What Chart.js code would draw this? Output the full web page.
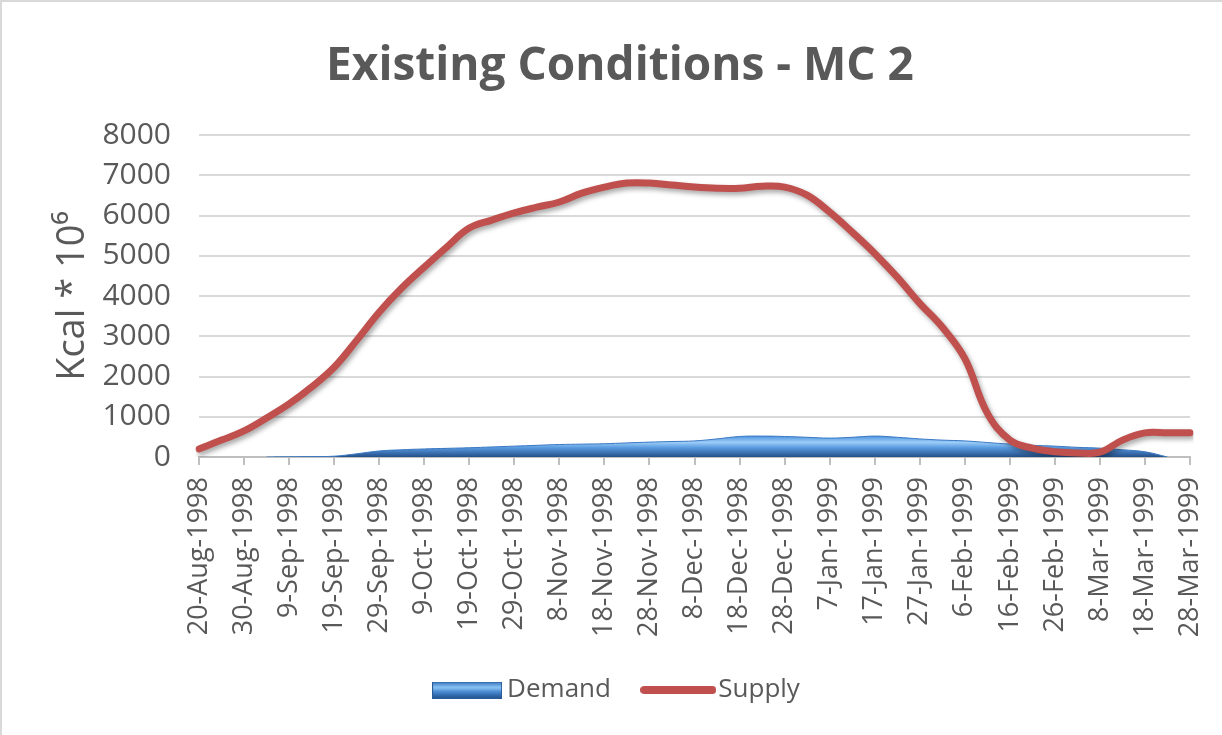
<!DOCTYPE html>
<html>
<head>
<meta charset="utf-8">
<script src="https://cdn.jsdelivr.net/npm/chart.js@4.4.1/dist/chart.umd.min.js"></script>
<style>
  html, body { margin: 0; padding: 0; background: #fff; }
  #wrap { position: relative; width: 1222px; height: 735px; box-sizing: border-box;
          border-top: 2px solid #d9d9d9; border-left: 2px solid #d9d9d9; }
  canvas { display: block; }
</style>
</head>
<body>
<div id="wrap"><canvas id="myChart" width="1220" height="733"></canvas></div>
<script>
// 5-day steps, labels shown every 10 days
const dates = [
  "20-Aug-1998", "25-Aug-1998", "30-Aug-1998", "4-Sep-1998", "9-Sep-1998", "14-Sep-1998",
  "19-Sep-1998", "24-Sep-1998", "29-Sep-1998", "4-Oct-1998", "9-Oct-1998", "14-Oct-1998",
  "19-Oct-1998", "24-Oct-1998", "29-Oct-1998", "3-Nov-1998", "8-Nov-1998", "13-Nov-1998",
  "18-Nov-1998", "23-Nov-1998", "28-Nov-1998", "3-Dec-1998", "8-Dec-1998", "13-Dec-1998",
  "18-Dec-1998", "23-Dec-1998", "28-Dec-1998", "2-Jan-1999", "7-Jan-1999", "12-Jan-1999",
  "17-Jan-1999", "22-Jan-1999", "27-Jan-1999", "1-Feb-1999", "6-Feb-1999", "11-Feb-1999",
  "16-Feb-1999", "21-Feb-1999", "26-Feb-1999", "3-Mar-1999", "8-Mar-1999", "13-Mar-1999",
  "18-Mar-1999", "23-Mar-1999", "28-Mar-1999"
];

const demand = [
  null, null, null, 0, 5, 10, 20, 80, 150, 180, 200, 215, 230, 250, 270, 290, 310, 320,
  330, 350, 370, 385, 400, 450, 510, 520, 510, 490, 470, 490, 520, 490, 450, 420, 400, 360,
  320, 290, 270, 240, 220, 180, 130, 0, null
];

const supply = [
  200, 420, 650, 970, 1320, 1740, 2230, 2900, 3600, 4200, 4720, 5220, 5690, 5890, 6070, 6210,
  6340, 6560, 6710, 6810, 6810, 6760, 6710, 6680, 6680, 6730, 6710, 6510, 6090, 5590, 5060,
  4470, 3820, 3230, 2450, 1090, 420, 220, 130, 100, 120, 420, 600, 600, 600
];

const yTicks = [0, 1000, 2000, 3000, 4000, 5000, 6000, 7000, 8000];

const grey = "#595959";
const font = "'Open Sans', 'Liberation Sans', sans-serif";

// legend symbols
function makeDemandIcon() {
  const c = document.createElement("canvas");
  c.width = 70; c.height = 17;
  const g = c.getContext("2d");
  const gr = g.createLinearGradient(0, 0, 0, 17);
  gr.addColorStop(0, "#2f6fb8");
  gr.addColorStop(0.35, "#8cc4f4");
  gr.addColorStop(0.6, "#4a8ad4");
  gr.addColorStop(1, "#1f4f8c");
  g.fillStyle = gr;
  g.fillRect(0, 0, 70, 17);
  g.strokeStyle = "#2a5b97";
  g.strokeRect(0.5, 0.5, 69, 16);
  return c;
}
function makeSupplyIcon() {
  const c = document.createElement("canvas");
  c.width = 76; c.height = 10;
  const g = c.getContext("2d");
  g.strokeStyle = "#c0504d";
  g.lineWidth = 8;
  g.lineCap = "round";
  g.beginPath();
  g.moveTo(4, 5);
  g.lineTo(72, 5);
  g.stroke();
  return c;
}
const icons = [makeDemandIcon(), makeSupplyIcon()];
// trailing space after Demand gives the gap before the Supply line
const legendSpacing = ["\u2003\u2009", ""];

function demandFill(context) {
  const chart = context.chart;
  const area = chart.chartArea;
  if (!area) return "#5b9bd5";
  const y = chart.scales.y;
  const top = y.getPixelForValue(520);
  const bottom = y.getPixelForValue(0);
  const gr = chart.ctx.createLinearGradient(0, top, 0, bottom);
  gr.addColorStop(0, "#4f95e0");
  gr.addColorStop(0.3, "#9ccdf7");
  gr.addColorStop(0.55, "#5a9be0");
  gr.addColorStop(1, "#234f8a");
  return gr;
}

const lineShadow = {
  id: "lineShadow",
  beforeDatasetDraw(chart, args) {
    if (args.index !== 1) return;
    const c = chart.ctx;
    c.save();
    c.shadowColor = "rgba(0,0,0,0.35)";
    c.shadowBlur = 5;
    c.shadowOffsetX = 2;
    c.shadowOffsetY = 3;
  },
  afterDatasetDraw(chart, args) {
    if (args.index !== 1) return;
    chart.ctx.restore();
  }
};

const ctx = document.getElementById("myChart").getContext("2d");
const myChart = new Chart(ctx, {
  type: "line",
  data: {
    labels: dates,
    datasets: [
      {
        label: "Demand",
        data: demand,
        order: 1,
        fill: "origin",
        backgroundColor: demandFill,
        borderColor: "#3a78c3",
        borderWidth: 1,
        pointRadius: 0,
        tension: 0.4
      },
      {
        label: "Supply",
        data: supply,
        order: 0,
        fill: false,
        borderColor: "#c0504d",
        borderWidth: 7,
        borderCapStyle: "round",
        borderJoinStyle: "round",
        pointRadius: 0,
        tension: 0.4
      }
    ]
  },
  plugins: [lineShadow],
  options: {
    responsive: false,
    animation: false,
    layout: { padding: { left: 48, right: 32, top: 0, bottom: 22 } },
    plugins: {
      title: {
        display: true,
        text: "Existing Conditions - MC 2",
        color: grey,
        font: { family: font, size: 46, weight: "bold" },
        padding: { top: 37, bottom: 41 }
      },
      legend: {
        position: "bottom",
        labels: {
          color: grey,
          font: { family: font, size: 26 },
          usePointStyle: true,
          pointStyleWidth: 54,
          boxHeight: 17,
          padding: 10,
          generateLabels(chart) {
            return chart.data.datasets.map((ds, i) => ({
              text: ds.label + legendSpacing[i],
              fontColor: grey,
              pointStyle: icons[i],
              datasetIndex: i,
              hidden: false,
              lineWidth: 0
            }));
          }
        }
      },
      tooltip: { enabled: false }
    },
    scales: {
      x: {
        afterFit: (axis) => {
          axis.height = 210;
          axis.paddingLeft = 0;
          axis.paddingRight = 0;
        },
        grid: {
          drawOnChartArea: false,
          tickLength: 8,
          lineWidth: 2,
          color: (c) => (c.index % 2 === 0 ? "#bfbfbf" : "rgba(0,0,0,0)")
        },
        border: { color: "#bfbfbf", width: 2 },
        ticks: {
          autoSkip: false,
          maxRotation: 90,
          minRotation: 90,
          padding: 12,
          color: grey,
          font: { family: font, size: 27 },
          callback: (v, i) => (i % 2 === 0 ? dates[i] : "")
        }
      },
      y: {
        min: 0,
        max: 8000,
        afterBuildTicks: (axis) => { axis.ticks = yTicks.map(v => ({ value: v })); },
        afterFit: (axis) => { axis.width = 149; },
        grid: { color: "#d9d9d9", lineWidth: 2, drawTicks: false },
        border: { display: false },
        ticks: {
          padding: 28,
          color: grey,
          font: { family: font, size: 30 },
          callback: (v) => String(v)
        },
        title: {
          display: true,
          text: "Kcal * 10\u2076",
          color: grey,
          font: { family: font, size: 38 },
          padding: { top: 0, bottom: 10 }
        }
      }
    }
  }
});
</script>
</body>
</html>
